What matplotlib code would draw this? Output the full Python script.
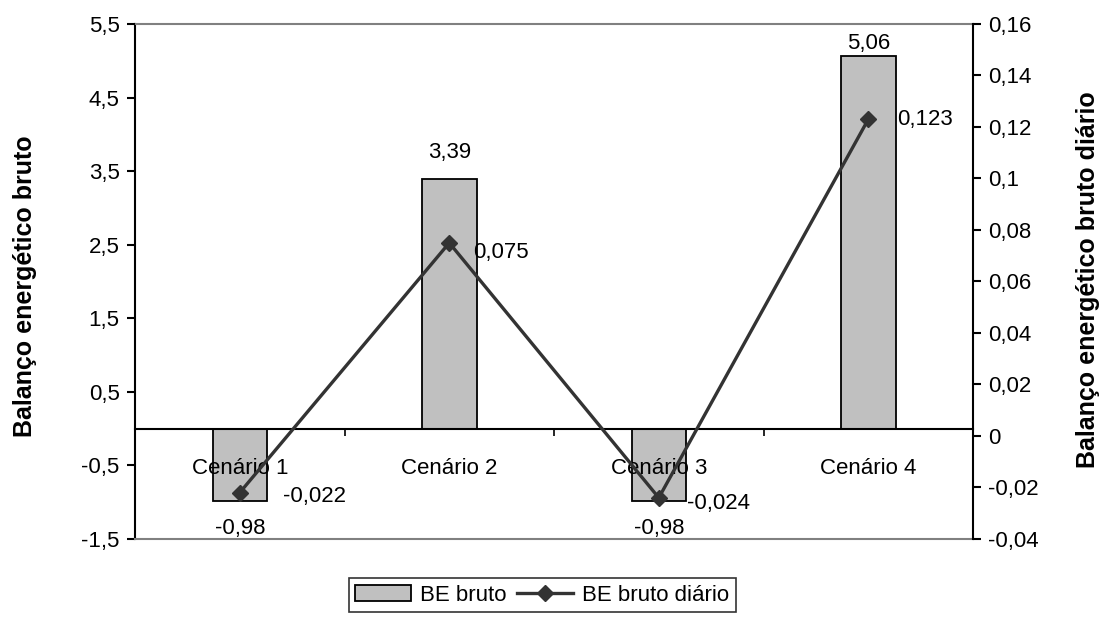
import matplotlib
matplotlib.use('Agg')
import matplotlib.pyplot as plt
from matplotlib.ticker import FixedLocator, FuncFormatter

plt.rcParams['font.family'] = ['Liberation Sans', 'DejaVu Sans']

# data
cenarios = ['Cenário 1', 'Cenário 2', 'Cenário 3', 'Cenário 4']
be_bruto = [-0.98, 3.39, -0.98, 5.06]
be_bruto_diario = [-0.022, 0.075, -0.024, 0.123]

left_ticks = [-1.5, -0.5, 0.5, 1.5, 2.5, 3.5, 4.5, 5.5]
right_ticks = [-0.04, -0.02, 0, 0.02, 0.04, 0.06, 0.08, 0.1, 0.12, 0.14, 0.16]

# label offsets in points (dx, dy)
bar_label_off = [(0, -20), (0, 19), (0, -20), (0, 9.5)]
line_label_off = [(31, -3), (17, -7), (20, -4), (21, 0)]

fs = 16

fig = plt.figure(figsize=(11.02, 6.26), dpi=100)
ax = fig.add_axes([0.1225, 0.139, 0.7605, 0.8227])
ax.set_axisbelow(False)  # category labels drawn over the bars
x = list(range(len(cenarios)))

bars = ax.bar(x, be_bruto, width=0.26, color='#C0C0C0', edgecolor='black',
              linewidth=1.3, label='BE bruto', zorder=2)
ax.set_xlim(-0.5, len(cenarios) - 0.5)
ax.set_ylim(-1.5, 5.5)
ax.yaxis.set_major_locator(FixedLocator(left_ticks))
ax.yaxis.set_major_formatter(FuncFormatter(lambda v, p: ('%.1f' % v).replace('.', ',')))

# category axis at zero
ax.spines['bottom'].set_position(('data', 0))
ax.spines['bottom'].set_linewidth(1.5)
ax.spines['left'].set_linewidth(1.5)
ax.spines['top'].set_color('#808080')
ax.spines['top'].set_linewidth(1.5)
ax.spines['right'].set_visible(False)
ax.axhline(-1.5, color='#808080', linewidth=1.5, clip_on=False, zorder=3)

ax.set_xticks([i + 0.5 for i in x[:-1]])
ax.set_xticklabels([])
ax.set_xticks(x, minor=True)
ax.set_xticklabels(cenarios, minor=True)
ax.tick_params(axis='x', which='major', direction='out', length=5, width=1.2)
ax.tick_params(axis='x', which='minor', length=0, pad=21, labelsize=fs)
ax.tick_params(axis='y', direction='out', length=6, width=1.5, pad=5, labelsize=fs)

for xi, v, off in zip(x, be_bruto, bar_label_off):
    ax.annotate(('%.2f' % v).replace('.', ','), (xi, v), xytext=off,
                textcoords='offset points', ha='center', va='center', fontsize=fs)

ax.set_ylabel('Balanço energético bruto', fontsize=18, fontweight='bold')
ax.yaxis.set_label_coords(-0.117, 0.491)

# secondary axis
ax2 = ax.twinx()
line, = ax2.plot(x, be_bruto_diario, color='#333333', linewidth=2.4, marker='D',
                 markersize=8, label='BE bruto diário', zorder=4)
ax2.set_ylim(-0.04, 0.16)
ax2.yaxis.set_major_locator(FixedLocator(right_ticks))
ax2.yaxis.set_major_formatter(FuncFormatter(lambda v, p: ('%g' % round(v, 4)).replace('.', ',')))
for s in ['top', 'bottom', 'left']:
    ax2.spines[s].set_visible(False)
ax2.spines['right'].set_linewidth(1.5)
ax2.tick_params(axis='y', direction='out', length=6, width=1.5, pad=5, labelsize=fs)

for xi, v, off in zip(x, be_bruto_diario, line_label_off):
    ax2.annotate(('%g' % v).replace('.', ','), (xi, v), xytext=off,
                 textcoords='offset points', ha='left', va='center', fontsize=fs)

ax2.set_ylabel('Balanço energético bruto diário', fontsize=18, fontweight='bold')
ax2.yaxis.set_label_coords(1.123, 0.503)

leg = fig.legend(handles=[bars, line], loc='center', bbox_to_anchor=(0.492, 0.0495),
                 ncol=2, fontsize=fs, frameon=True, fancybox=False, edgecolor='black',
                 handlelength=2.5, columnspacing=0.5, handletextpad=0.4,
                 borderpad=0.3)
leg.get_frame().set_linewidth(1.2)

fig.savefig('out.png', dpi=100)
